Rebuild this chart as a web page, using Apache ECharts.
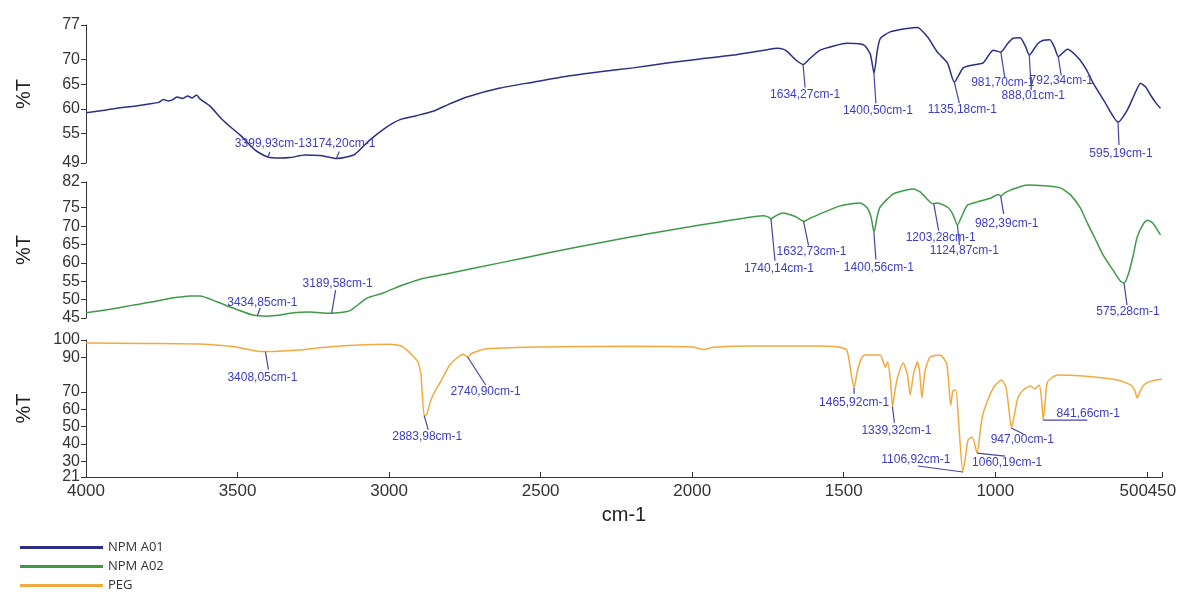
<!DOCTYPE html>
<html>
<head>
<meta charset="utf-8">
<script src="https://cdn.jsdelivr.net/npm/echarts@6/dist/echarts.min.js"></script>
<style>html,body{margin:0;padding:0;background:#fff}#c{width:1177px;height:596px}</style>
</head>
<body>
<div id="c"></div>
<script>
// ---------- DATA ----------
const seriesNames = ['NPM A01', 'NPM A02', 'PEG'];
const xTicks = [4000, 3500, 3000, 2500, 2000, 1500, 1000, 500, 450];
const yTicks1 = [49, 55, 60, 65, 70, 77];
const yTicks2 = [45, 50, 55, 60, 65, 70, 75, 82];
const yTicks3 = [21, 30, 40, 50, 60, 70, 90, 100];

const wn1 = [4000,3940,3888,3840,3789,3760,3745,3730,3715,3700,3680,3665,3650,3635,3624,3590,3558,3525,3492,3442,3400,3360,3327,3277,3228,3200,3174,3140,3112,3063,3013,2964,2910,2855,2800,2743,2634,2525,2413,2304,2195,2083,1974,1865,1752,1720,1700,1686,1660,1634,1610,1578,1530,1490,1450,1430,1412,1400,1390,1380,1347,1290,1257,1224,1191,1158,1135,1106,1073,1040,1007,982,960,941,918,900,888,860,841,820,805,792,762,729,700,677,640,595,565,540,521,505,488,470,455];
const t1 = [59.2,59.7,60.2,60.5,61.0,61.3,61.9,61.6,61.8,62.4,62.1,62.6,62.2,62.8,62.0,60.5,58.3,56.4,54.7,51.6,50.2,50.0,50.1,50.6,50.5,50.2,49.9,50.2,50.8,53.7,56.1,57.8,58.6,59.5,61.0,62.4,64.2,65.4,66.6,67.5,68.3,69.3,70.1,70.9,72.0,72.3,72.1,71.6,70.0,69.0,70.3,71.9,72.8,73.3,73.2,72.8,71.0,67.2,71.5,74.2,75.6,76.3,76.5,74.6,71.5,69.3,65.4,68.3,68.9,69.3,71.9,71.5,73.2,74.3,74.4,72.6,70.9,73.2,73.9,74.0,72.5,70.6,72.1,70.5,68.0,65.2,61.5,57.3,59.7,63.0,65.2,64.5,62.8,61.2,60.1];

const wn2 = [4000,3920,3845,3780,3733,3690,3657,3624,3568,3515,3449,3403,3360,3317,3261,3195,3160,3129,3073,3020,2964,2900,2800,2634,2469,2304,2139,1974,1865,1766,1750,1740,1720,1700,1660,1632,1610,1587,1512,1446,1423,1410,1400,1390,1380,1337,1271,1248,1215,1203,1191,1155,1140,1125,1110,1092,1059,1016,990,982,970,950,894,840,785,752,720,696,670,644,610,587,575,560,545,532,510,498,480,455];
const t2 = [46.4,47.4,48.5,49.4,50.2,50.7,51.0,51.0,49.4,47.7,45.8,45.5,45.8,46.4,46.6,46.3,46.5,47.0,50.4,51.8,53.7,55.5,57.2,60.0,62.8,65.5,68.0,70.3,71.7,72.8,72.5,72.0,73.0,73.6,72.6,71.3,72.2,73.0,75.5,76.3,75.0,72.5,68.3,72.5,75.2,78.7,80.1,79.3,76.5,76.1,76.3,75.0,73.2,70.3,72.8,75.7,76.6,77.6,78.6,78.2,79.0,79.8,81.2,81.0,80.4,78.5,75.0,70.8,66.5,62.1,57.8,55.0,54.5,57.2,62.0,67.0,70.8,71.6,70.8,67.6];

const wn3 = [4000,3800,3624,3550,3500,3450,3408,3350,3300,3200,3100,3000,2960,2940,2920,2905,2895,2884,2875,2865,2850,2830,2800,2770,2755,2741,2725,2700,2680,2500,2200,2000,1960,1930,1800,1600,1520,1490,1475,1466,1455,1440,1429,1380,1363,1355,1345,1339,1330,1320,1304,1290,1281,1270,1257,1250,1242,1232,1215,1182,1160,1147,1140,1130,1120,1107,1098,1090,1076,1060,1048,1040,1007,980,965,955,947,938,925,908,884,870,855,847,842,835,828,795,710,597,554,540,532,523,510,490,450];
const t3 = [98.3,98.0,97.7,96.8,95.8,94.0,93.3,93.6,94.2,96.0,97.1,97.5,96.5,94.0,90.5,87.5,80.0,56.2,57.5,64.0,70.0,76.0,85.6,90.5,91.8,90.2,92.5,94.0,95.0,96.0,96.4,96.0,94.5,95.8,96.5,96.5,96.0,94.2,80.0,72.3,82.0,90.0,91.4,91.4,84.4,87.3,75.0,61.5,72.0,80.0,86.7,80.0,68.3,80.0,87.3,82.0,66.6,82.0,90.2,91.4,86.0,62.5,70.5,71.2,50.0,23.9,33.0,42.3,44.1,34.8,50.0,57.9,72.3,76.9,73.0,60.0,49.3,56.0,67.0,71.2,73.5,71.8,74.1,65.0,53.8,65.0,75.8,79.8,79.2,76.9,74.1,71.0,66.6,70.0,74.1,76.0,77.5];

// Peak annotations (wavenumber, transmittance at peak, text)
const peakWn1 = [3399.93, 3174.20, 1634.27, 1400.50, 1135.18, 981.70, 888.01, 792.34, 595.19];
const peakT1  = [50.2, 49.9, 69.0, 67.2, 65.4, 71.5, 70.9, 70.6, 57.3];
const peakTxt1 = ['3399,93cm-1','3174,20cm-1','1634,27cm-1','1400,50cm-1','1135,18cm-1','981,70cm-1','888,01cm-1','792,34cm-1','595,19cm-1'];

const peakWn2 = [3434.85, 3189.58, 1740.14, 1632.73, 1400.56, 1203.28, 1124.87, 982.39, 575.28];
const peakT2  = [45.6, 46.3, 72.0, 71.3, 68.3, 76.1, 70.3, 78.2, 54.5];
const peakTxt2 = ['3434,85cm-1','3189,58cm-1','1740,14cm-1','1632,73cm-1','1400,56cm-1','1203,28cm-1','1124,87cm-1','982,39cm-1','575,28cm-1'];

const peakWn3 = [3408.05, 2883.98, 2740.90, 1465.92, 1339.32, 1106.92, 1060.19, 947.00, 841.66];
const peakT3  = [93.3, 56.2, 90.2, 72.3, 61.5, 23.9, 34.8, 49.3, 53.8];
const peakTxt3 = ['3408,05cm-1','2883,98cm-1','2740,90cm-1','1465,92cm-1','1339,32cm-1','1106,92cm-1','1060,19cm-1','947,00cm-1','841,66cm-1'];

// ---------- LAYOUT (pixel offsets of leader-line end and text centre from peak) ----------
const lay1 = [[2,-5,2,-13],[3,-7,4,-15],[2,23,2,30],[2,30,4,37],[5,21,8,28],[4,26,2,31],[2,35,4,41],[3,19,3,24],[1,23,3,32]];
const lay2 = [[3,-8,5,-13],[4,-23,6,-30],[4,42,8,50],[5,24,8,30],[2,27,5,35],[5,27,7,34],[2,20,7,26],[3,18,6,28],[3,22,4,29]];
const lay3 = [[3,18,-3,26],[4,14,3,21],[18,28,18,35],[0,6,0,15],[2,16,4,24],[-45,-6,-47,-12],[28,3,30,10],[12,6,11,12],[44,0,45,-6]];

const colors = ['#2b2f86', '#3f9a48', '#f2aa40'];
const annoText = '#3c3cc8';
const annoLine = '#4646a6';
const FONT = "'Liberation Sans', Arial, sans-serif";

const zip = (a, b) => a.map((v, i) => [v, b[i]]);

const grids = [
  {left: 86, right: 15, top: 25, height: 138},
  {left: 86, right: 15, top: 182, height: 136},
  {left: 86, right: 15, top: 340, height: 137}
];

function xAxisDef(i) {
  const show = i === 2;
  return {
    type: 'value', gridIndex: i, inverse: true, min: 450, max: 4000,
    show: true,
    splitLine: {show: false},
    axisLine: {show: show, onZero: false, lineStyle: {color: '#333', width: 1}},
    axisTick: {show: show, inside: true, length: 5, customValues: xTicks, lineStyle: {color: '#333'}},
    axisLabel: {
      show: show, customValues: xTicks, margin: 6, hideOverlap: false,
      showMinLabel: true, showMaxLabel: true,
      color: '#333', fontSize: 17, fontFamily: FONT,
      formatter: v => v === 500 ? '{a|500}' : (v === 450 ? '{b|450}' : String(v)),
      rich: {
        a: {fontSize: 17, fontFamily: FONT, color: '#333', width: 2, align: 'right'},
        b: {fontSize: 17, fontFamily: FONT, color: '#333', width: 2, align: 'center'}
      }
    },
    name: show ? 'cm-1' : '', nameLocation: 'middle', nameGap: 28, nameMoveOverlap: false,
    nameTextStyle: {fontSize: 20, color: '#222', fontFamily: FONT}
  };
}

function yAxisDef(i, mn, mx, ticks, withName) {
  return {
    type: 'value', gridIndex: i, min: mn, max: mx, position: 'left', offset: 0,
    splitLine: {show: false},
    axisLine: {show: withName, lineStyle: {color: '#333', width: 1}},
    axisTick: {show: true, length: 5, customValues: ticks, lineStyle: {color: '#333'}},
    axisLabel: {customValues: ticks, margin: 6, color: '#333', fontSize: 16, fontFamily: FONT,
      hideOverlap: false, showMinLabel: true, showMaxLabel: true},
    name: withName ? '%T' : '', nameLocation: 'middle', nameGap: 52, nameRotate: 90, nameMoveOverlap: false,
    nameTextStyle: {fontSize: 20, color: '#222', fontFamily: FONT}
  };
}

function annoSeries(i, wns, ts, txts, lay) {
  return {
    type: 'custom', xAxisIndex: i, yAxisIndex: i, z: 5, clip: false, silent: true,
    data: wns.map((w, k) => [w, ts[k], k]),
    renderItem: (params, api) => {
      const p = api.coord([api.value(0), api.value(1)]);
      const k = api.value(2);
      const L = lay[k];
      return {
        type: 'group',
        children: [
          {type: 'line', shape: {x1: p[0], y1: p[1], x2: p[0] + L[0], y2: p[1] + L[1]},
           style: {stroke: annoLine, lineWidth: 1.2}},
          {type: 'text', x: p[0] + L[2], y: p[1] + L[3],
           style: {text: txts[k], fill: annoText, font: '12px ' + FONT, align: 'center', verticalAlign: 'middle'}}
        ]
      };
    }
  };
}

function lineSeries(i, wns, ts) {
  return {
    name: seriesNames[i], type: 'line', xAxisIndex: i, yAxisIndex: i,
    data: zip(wns, ts), showSymbol: false, symbol: 'none', smooth: 0.2,
    lineStyle: {color: colors[i], width: 1.5}, itemStyle: {color: colors[i]},
    z: 3
  };
}

const y3min = yTicks3[0], y3max = yTicks3[yTicks3.length - 1];

const chart = echarts.init(document.getElementById('c'), null, {renderer: 'canvas'});
chart.setOption({
  animation: false,
  backgroundColor: '#fff',
  grid: grids.map(g => Object.assign({outerBoundsMode: 'none', containLabel: false}, g)),
  xAxis: [0, 1, 2].map(xAxisDef),
  yAxis: [
    yAxisDef(0, 49, 77, yTicks1, true),
    yAxisDef(1, 45, 82, yTicks2, true),
    yAxisDef(2, y3min, y3max, yTicks3.slice(1), true),
    yAxisDef(2, y3min, y3max, yTicks3.slice(0, 1), false)
  ],
  legend: {
    data: seriesNames, orient: 'vertical', left: 20, top: 540, height: 120,
    itemWidth: 83, itemHeight: 3, itemGap: 4, icon: 'rect', padding: 0,
    textStyle: {fontSize: 13, color: '#333', fontFamily: "'Open Sans', sans-serif", lineHeight: 15}
  },
  series: [
    lineSeries(0, wn1, t1),
    lineSeries(1, wn2, t2),
    lineSeries(2, wn3, t3),
    annoSeries(0, peakWn1, peakT1, peakTxt1, lay1),
    annoSeries(1, peakWn2, peakT2, peakTxt2, lay2),
    annoSeries(2, peakWn3, peakT3, peakTxt3, lay3)
  ]
});
</script>
</body>
</html>
